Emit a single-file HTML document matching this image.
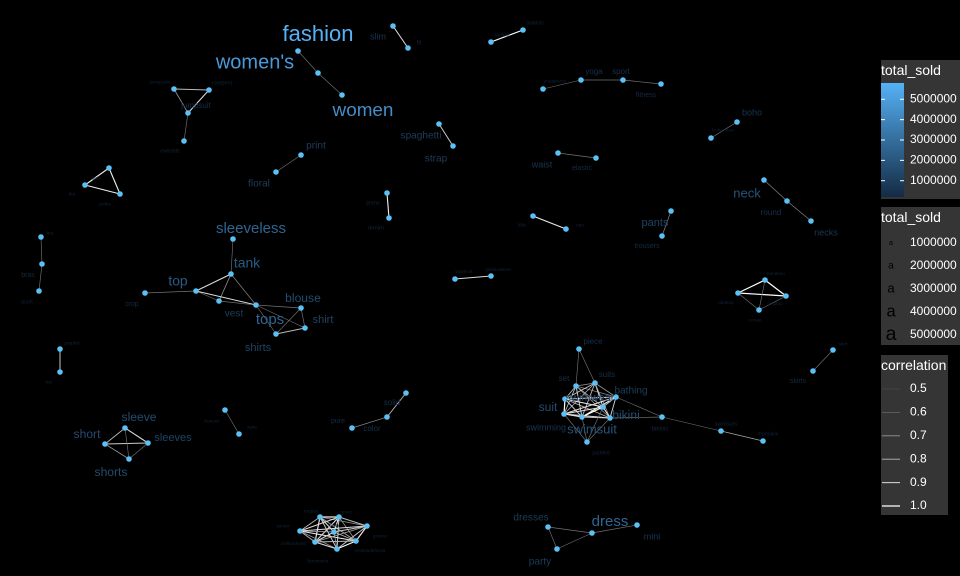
<!DOCTYPE html>
<html><head><meta charset="utf-8">
<style>
html,body{margin:0;padding:0;background:#000;}
svg{display:block;font-family:"Liberation Sans",Arial,sans-serif;}
</style></head>
<body>
<svg id="chart" width="960" height="576" viewBox="0 0 960 576" xmlns="http://www.w3.org/2000/svg">
<rect x="0" y="0" width="960" height="576" fill="#000"/>
<g id="edges"></g>
<g id="nodes"></g>
<g id="labels"></g>
<g id="legend">
  <defs>
    <linearGradient id="cbar" x1="0" y1="0" x2="0" y2="1">
      <stop offset="0" stop-color="#56B1F7"/>
      <stop offset="1" stop-color="#132B43"/>
    </linearGradient>
  </defs>
  <rect x="881" y="60" width="79" height="139" fill="#353535"/>
  <text x="881" y="75" font-size="14" fill="#fff">total_sold</text>
  <rect x="881" y="83" width="23" height="114" fill="url(#cbar)"/>
  <g id="cbticks"></g>
  <rect x="881" y="207" width="79" height="138" fill="#353535"/>
  <text x="881" y="222" font-size="14" fill="#fff">total_sold</text>
  <g id="sizekeys"></g>
  <rect x="881" y="355" width="67" height="160" fill="#353535"/>
  <text x="881" y="370" font-size="14" fill="#fff">correlation</text>
  <g id="corrkeys"></g>
</g>
</svg>
<script>
const words = ["fashion","women's","women","slim","fit","jumpsuits","rompers","jumpsuit","overalls","spaghetti","strap","print","floral","jeans","denim","tankini","tankinis","yogapants","yoga","sport","fitness","boho","bohemian","waist","elastic","neck","round","necks","low","rise","pants","trousers","dots","dot","polka","bra","bras","push","graphic","tee","sleeveless","tank","top","crop","vest","tops","blouse","shirt","shirts","bandeau","tubetop","croptop","corset","skirt","skirts","piece","set","suits","swimwear","bathing","swimsuit","suit","swimming","bikini","padded","bikinis","swimsuits","monokini","dresses","dress","mini","party","sleeve","short","sleeves","shorts","korean","style","solid","color","pure","roupas","gown","winter","fiesta","gowns","chiffondress","vestidodefiesta","femininos","bowknot","girlsbowknot"];
const sold = [5800000,5150000,4800000,1600000,650000,300000,500000,1300000,500000,1950000,1950000,1950000,1950000,500000,600000,400000,400000,300000,1300000,1300000,970000,1600000,300000,1600000,970000,2900000,1300000,1600000,400000,300000,2250000,970000,300000,300000,300000,300000,970000,400000,300000,300000,3550000,3200000,3200000,970000,1950000,3550000,2600000,2250000,2250000,200000,200000,200000,300000,300000,970000,1300000,1300000,1300000,2250000,1950000,2900000,2600000,1600000,2600000,400000,650000,400000,400000,1950000,3550000,1600000,1950000,2600000,2600000,2250000,2600000,300000,300000,1300000,1300000,970000,300000,300000,300000,200000,300000,200000,200000,300000,200000,200000];
const edgeFrom = [0,0,3,5,6,5,7,9,11,13,15,17,18,19,21,23,25,26,28,30,32,33,32,35,36,38,40,41,41,41,42,42,42,44,45,45,45,46,46,47,49,49,50,49,50,51,53,55,55,56,56,56,56,56,56,56,57,57,57,57,57,57,58,58,58,58,58,59,59,59,59,60,60,60,61,61,62,64,64,64,64,63,59,65,66,68,69,68,71,72,72,73,73,74,72,76,78,79,81,81,81,81,81,81,81,82,82,82,82,82,82,83,83,83,83,83,84,84,84,84,85,85,85,86,86,87,89];
const edgeTo   = [1,2,4,6,7,7,8,10,12,14,16,18,19,20,22,24,26,27,29,31,33,34,34,36,37,39,41,42,44,45,43,44,45,45,46,48,47,47,48,48,50,51,51,52,52,52,54,56,57,57,58,59,60,61,62,63,58,59,60,61,62,63,59,60,61,62,63,60,61,62,63,61,62,63,62,63,63,61,62,63,60,65,65,66,67,69,70,71,69,73,74,74,75,75,75,77,79,80,82,83,84,85,86,87,88,83,84,85,86,87,88,84,85,86,87,88,85,86,87,88,86,87,88,87,88,88,90];
const corr     = [0.6,0.6,0.9,0.8,0.9,0.7,0.6,0.85,0.6,0.95,1.0,0.6,0.6,0.6,0.6,0.6,0.65,0.65,0.95,0.65,0.95,0.95,0.95,0.6,0.6,0.85,0.6,0.9,0.7,0.65,0.6,0.6,0.9,0.6,0.6,0.6,0.6,0.6,0.6,0.8,1.0,1.0,1.0,0.6,0.6,0.6,0.6,0.6,0.6,0.7,0.8,0.65,0.75,0.8,0.85,0.7,0.85,0.7,0.9,0.75,0.8,0.7,0.9,0.95,1.0,0.85,0.8,0.8,0.9,0.95,0.85,0.9,1.0,0.95,0.95,0.9,0.85,0.6,0.6,0.6,0.6,0.6,0.6,0.6,0.75,0.6,0.6,0.6,0.6,0.8,0.9,0.85,0.7,0.6,0.6,0.6,0.8,0.65,0.95,0.8,0.9,0.7,0.95,0.75,0.85,0.9,0.95,0.8,0.9,0.7,0.85,0.75,0.9,0.8,0.95,0.7,0.85,0.9,0.8,0.7,0.75,0.95,0.85,0.8,0.9,1.0,0.9];
const colorTicks = [1000000,2000000,3000000,4000000,5000000];
const sizeKeys = [1000000,2000000,3000000,4000000,5000000];
const corrKeys = [0.5,0.6,0.7,0.8,0.9,1.0];

// layout (graph positions)
const layout = [[318,73,318,35],[298,51,255,63],[342,95,363,111],[393,26,378,37],[408,48,419,43],[174,89,160,82],[209,90,222,83],[188,113,196,106],[184,141,170,151],[439,124,421,136],[453,146,436,159],[301,155,316,146],[276,172,259,184],[387,193,373,203],[389,218,376,228],[491,42,502,35],[523,30,535,23],[543,89,555,81],[581,80,594,72],[623,80,621,72],[661,84,646,95],[737,122,752,113],[711,138,723,130],[558,153,542,165],[596,158,582,168],[764,180,747,194],[787,201,771,213],[811,221,826,233],[533,216,522,225],[566,229,580,225],[671,211,655,223],[662,236,647,246],[109,168,96,178],[85,185,72,194],[120,194,105,204],[41,237,50,233],[42,264,28,275],[39,291,27,302],[60,349,72,343],[60,372,49,382],[233,239,251,229],[231,274,247,264],[196,291,178,282],[145,293,132,304],[219,301,234,314],[256,305,270,320],[301,308,303,299],[305,328,323,320],[276,334,258,348],[765,280,776,274],[738,293,726,303],[786,296,775,304],[759,310,755,320],[833,350,843,344],[813,371,798,381],[579,349,593,342],[576,386,564,379],[595,383,607,375],[565,399,590,398],[616,397,631,391],[603,407,592,430],[564,414,548,408],[582,417,546,428],[610,418,626,416],[587,442,601,453],[662,417,660,429],[721,431,726,424],[763,441,768,434],[548,527,531,518],[592,533,610,522],[637,525,652,537],[557,549,540,562],[125,428,139,418],[105,444,87,435],[148,443,173,438],[129,459,111,473],[225,410,212,421],[239,434,252,427],[406,393,392,403],[387,417,372,429],[352,428,338,421],[320,517,311,511],[339,517,346,512],[300,531,283,526],[334,532,334,526],[367,526,380,536],[315,542,293,544],[356,541,370,551],[337,549,318,561],[455,279,464,272],[491,276,498,270]];

const NS = "http://www.w3.org/2000/svg";
const maxSold = 5800000;
function sizeScale(v){ return 4 + 18 * v / maxSold; }
function colorScale(v){
  let t = Math.max(0, Math.min(1, (v - 200000) / (maxSold - 200000)));
  t = Math.pow(t, 1.5);
  const a=[16,36,58], b=[86,177,247];
  const c=a.map((x,i)=>Math.round(x+(b[i]-x)*t));
  return `rgb(${c[0]},${c[1]},${c[2]})`;
}
function edgeColor(r){ const g=Math.round(80+(255-80)*(r-0.5)/0.5); return `rgb(${g},${g},${g})`; }
function edgeWidth(r){ return 0.5 + 0.7*(r-0.5)/0.5; }
function mk(tag, attrs){ const e=document.createElementNS(NS,tag); for(const k in attrs) e.setAttribute(k,attrs[k]); return e; }

const gE=document.getElementById('edges'), gN=document.getElementById('nodes'), gL=document.getElementById('labels');
for(let i=0;i<edgeFrom.length;i++){
  const a=layout[edgeFrom[i]], b=layout[edgeTo[i]];
  const l=mk('line',{x1:a[0],y1:a[1],x2:b[0],y2:b[1],stroke:edgeColor(corr[i]),'stroke-width':edgeWidth(corr[i])});
  
  
  gE.appendChild(l);
}
for(let i=0;i<words.length;i++){
  const p=layout[i];
  const c=mk('circle',{cx:p[0],cy:p[1],r:2.8,fill:'#5BC0F5'});
  
  
  gN.appendChild(c);
  const t=mk('text',{x:p[2],y:p[3],'font-size':sizeScale(sold[i]).toFixed(1),fill:colorScale(sold[i]),'text-anchor':'middle','dominant-baseline':'middle'});
  t.textContent=words[i];
  
  
  gL.appendChild(t);
}
// colorbar ticks
const cb=document.getElementById('cbticks');
function cbY(v){ return 197 - (v - 200000) / (maxSold - 200000) * 114; }
colorTicks.forEach(v=>{
  const y=cbY(v);
  const l1=mk('line',{x1:881,y1:y,x2:885,y2:y,stroke:'#fff','stroke-width':1});
    cb.appendChild(l1);
  const l2=mk('line',{x1:900,y1:y,x2:904,y2:y,stroke:'#fff','stroke-width':1});
    cb.appendChild(l2);
  const t=mk('text',{x:910,y:y,'font-size':12,fill:'#fff','dominant-baseline':'middle'});
  t.textContent=String(v);
    cb.appendChild(t);
});
// size legend
const sk=document.getElementById('sizekeys');
const sizeYs=[243,266,289,312,335];
sizeKeys.forEach((v,i)=>{
  const a=mk('text',{x:891,y:sizeYs[i],'font-size':sizeScale(v).toFixed(1),fill:'#000','text-anchor':'middle','dominant-baseline':'middle'});
  a.textContent='a';
    sk.appendChild(a);
  const t=mk('text',{x:910,y:sizeYs[i],'font-size':12,fill:'#fff','dominant-baseline':'middle'});
  t.textContent=String(v);
    sk.appendChild(t);
});
// correlation legend
const ck=document.getElementById('corrkeys');
corrKeys.forEach((r,i)=>{
  const y=389+i*23.4;
  const l=mk('line',{x1:882,y1:y,x2:900,y2:y,stroke:edgeColor(r),'stroke-width':edgeWidth(r)});
    ck.appendChild(l);
  const t=mk('text',{x:910,y:y,'font-size':12,fill:'#fff','dominant-baseline':'middle'});
  t.textContent=r.toFixed(1);
    ck.appendChild(t);
});
</script>
</body></html>
